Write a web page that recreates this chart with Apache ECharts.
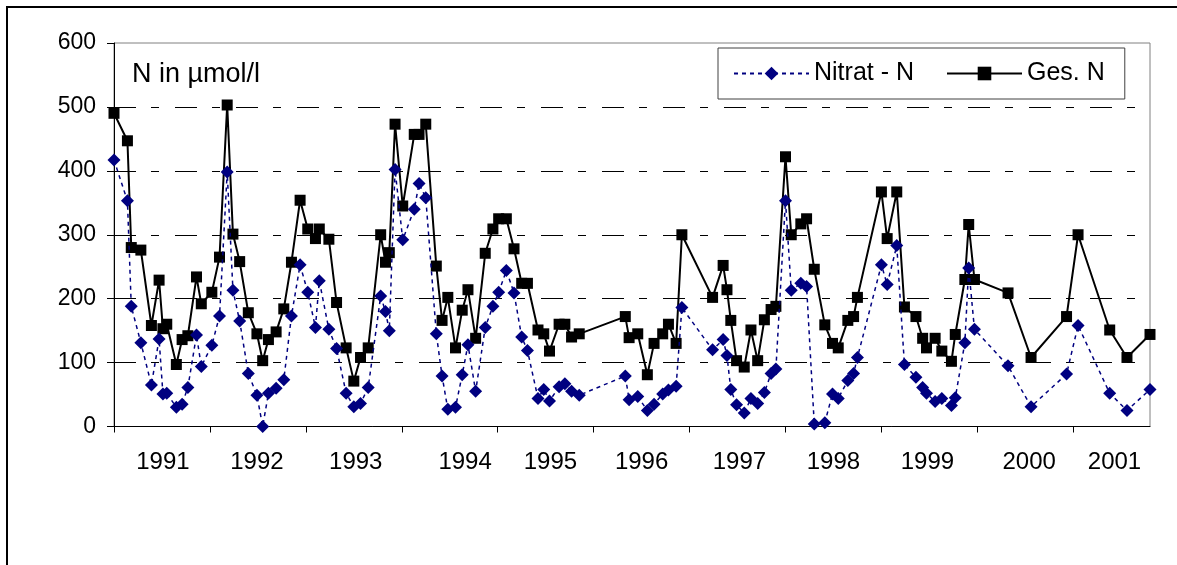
<!DOCTYPE html>
<html><head><meta charset="utf-8">
<script src="https://cdn.jsdelivr.net/npm/echarts@6/dist/echarts.min.js"></script>
<style>html,body{margin:0;padding:0;background:#fff}#c{width:1177px;height:565px}</style>
</head><body><div id="c"></div>
<script>
// Sampling dates (decimal years)
const sampleDates = [
 1991.00,1991.14,1991.18,1991.28,1991.39,1991.47,1991.51,1991.55,1991.65,1991.71,1991.77,1991.86,1991.91,
 1992.02,1992.10,1992.18,1992.24,1992.31,1992.40,1992.49,1992.55,1992.61,1992.69,1992.77,1992.85,1992.94,
 1993.02,1993.10,1993.14,1993.24,1993.32,1993.42,1993.50,1993.57,1993.65,1993.78,1993.83,1993.87,1993.93,
 1994.01,1994.13,1994.18,1994.25,1994.36,1994.42,1994.48,1994.56,1994.63,1994.69,1994.77,1994.87,1994.95,
 1995.01,1995.09,1995.17,1995.25,1995.31,1995.42,1995.48,1995.54,1995.64,1995.70,1995.77,1995.85,
 1996.33,1996.37,1996.46,1996.56,1996.63,1996.72,1996.78,1996.86,1996.92,
 1997.24,1997.35,1997.39,1997.43,1997.49,1997.57,1997.64,1997.71,1997.78,1997.85,1997.90,
 1998.00,1998.06,1998.16,1998.22,1998.30,1998.41,1998.49,1998.55,1998.65,1998.71,1998.75,
 1999.00,1999.06,1999.16,1999.24,1999.36,1999.43,1999.47,1999.56,1999.63,1999.73,1999.77,1999.87,1999.91,1999.97,
 2000.32,2000.56,2000.93,2001.05,2001.38,2001.56,2001.80
];
// Nitrat - N (µmol/l)
const nitratN = [
 417,353,188,131,65,137,51,52,30,35,61,143,94,
 127,173,398,213,165,83,49,0,52,60,73,173,253,
 210,155,228,152,122,52,31,36,61,204,180,150,402,
 292,340,380,358,145,79,27,30,81,128,55,155,188,
 210,244,209,140,119,44,58,40,62,67,55,49,
 79,42,47,25,35,51,57,63,186,
 120,136,111,58,34,21,44,36,53,83,90,
 353,213,224,219,4,6,51,44,72,83,108,
 253,222,283,97,77,61,52,39,44,33,45,131,248,152,
 95,31,82,158,52,25,58
];
// Ges. N (µmol/l)
const gesN = [
 490,447,280,276,158,229,153,160,97,136,142,234,192,
 210,265,503,301,258,178,145,103,136,148,184,257,354,
 309,294,309,293,194,123,71,108,123,300,257,272,473,
 345,457,457,473,251,166,202,123,182,214,138,271,309,
 325,325,278,224,224,151,145,118,160,160,140,145,
 172,139,145,81,130,145,160,130,300,
 202,252,214,166,103,93,151,103,167,183,188,
 422,300,317,325,246,159,130,123,166,172,202,
 367,294,367,187,172,138,123,138,118,102,144,230,316,230,
 209,108,172,300,151,108,144
];
const yearTicks = [1991,1992,1993,1994,1995,1996,1997,1998,1999,2000,2001];
const yearLabels = ['1991','1992','1993','1994','1995','1996','1997','1998','1999','2000','2001'];
const yearLabelPos = [1991.51,1992.49,1993.52,1994.66,1995.55,1996.5,1997.52,1998.5,1999.48,2000.54,2001.43];
const seriesNames = ['Nitrat - N','Ges. N'];

const font = '"Liberation Sans", Arial, sans-serif';
const chart = echarts.init(document.getElementById('c'), null, {renderer:'canvas'});
chart.setOption({
  animation:false,
  backgroundColor:'#fff',
  title:{text:'N in µmol/l', left:127, top:56,
    textStyle:{fontFamily:font, fontSize:27, fontWeight:'normal', color:'#000'}},
  legend:{data:seriesNames, left:718, top:48, padding:[13,20,13,15],
    itemWidth:75, itemHeight:17, itemGap:32,
    borderColor:'#404040', borderWidth:1, backgroundColor:'#fff',
    textStyle:{fontFamily:font, fontSize:25, color:'#000'}},
  grid:{left:114, right:27, top:43, bottom:138.5, show:true, borderColor:'#808080', borderWidth:1},
  xAxis:{type:'value', min:1991, max:2001.8, interval:1,
    axisLine:{show:true, lineStyle:{color:'#000', width:1}},
    axisTick:{show:true, length:6, customValues:yearTicks, lineStyle:{color:'#000'}},
    axisLabel:{customValues:yearLabelPos, margin:24, fontFamily:font, fontSize:24, color:'#000',
      formatter:function(v){
        let best=0; for(let i=0;i<yearLabelPos.length;i++){ if(Math.abs(yearLabelPos[i]-v)<Math.abs(yearLabelPos[best]-v)) best=i; }
        return yearLabels[best];
      }},
    splitLine:{show:false}},
  yAxis:{type:'value', min:0, max:600, interval:100,
    axisLine:{show:true, lineStyle:{color:'#000', width:1}},
    axisTick:{show:true, length:7, lineStyle:{color:'#000'}},
    axisLabel:{margin:18, fontFamily:font, fontSize:23, color:'#000'},
    splitLine:{show:true, showMinLine:false, showMaxLine:false,
      lineStyle:{color:'#000', width:1, type:[22,15,8,16]}}},
  series:[
    {name:seriesNames[1], type:'line', data:sampleDates.map((d,i)=>[d,gesN[i]]),
      symbol:'rect', symbolSize:11, itemStyle:{color:'#000'},
      lineStyle:{color:'#000', width:2}, z:2},
    {name:seriesNames[0], type:'line', data:sampleDates.map((d,i)=>[d,nitratN[i]]),
      symbol:'diamond', symbolSize:13, itemStyle:{color:'#000080'},
      lineStyle:{color:'#000080', width:1.5, type:[4,4]}, z:3}
  ],
  graphic:[{type:'rect', silent:true, z:-10,
    shape:{x:7, y:7, width:1300, height:700},
    style:{fill:'none', stroke:'#000', lineWidth:2}}]
});
</script></body></html>
